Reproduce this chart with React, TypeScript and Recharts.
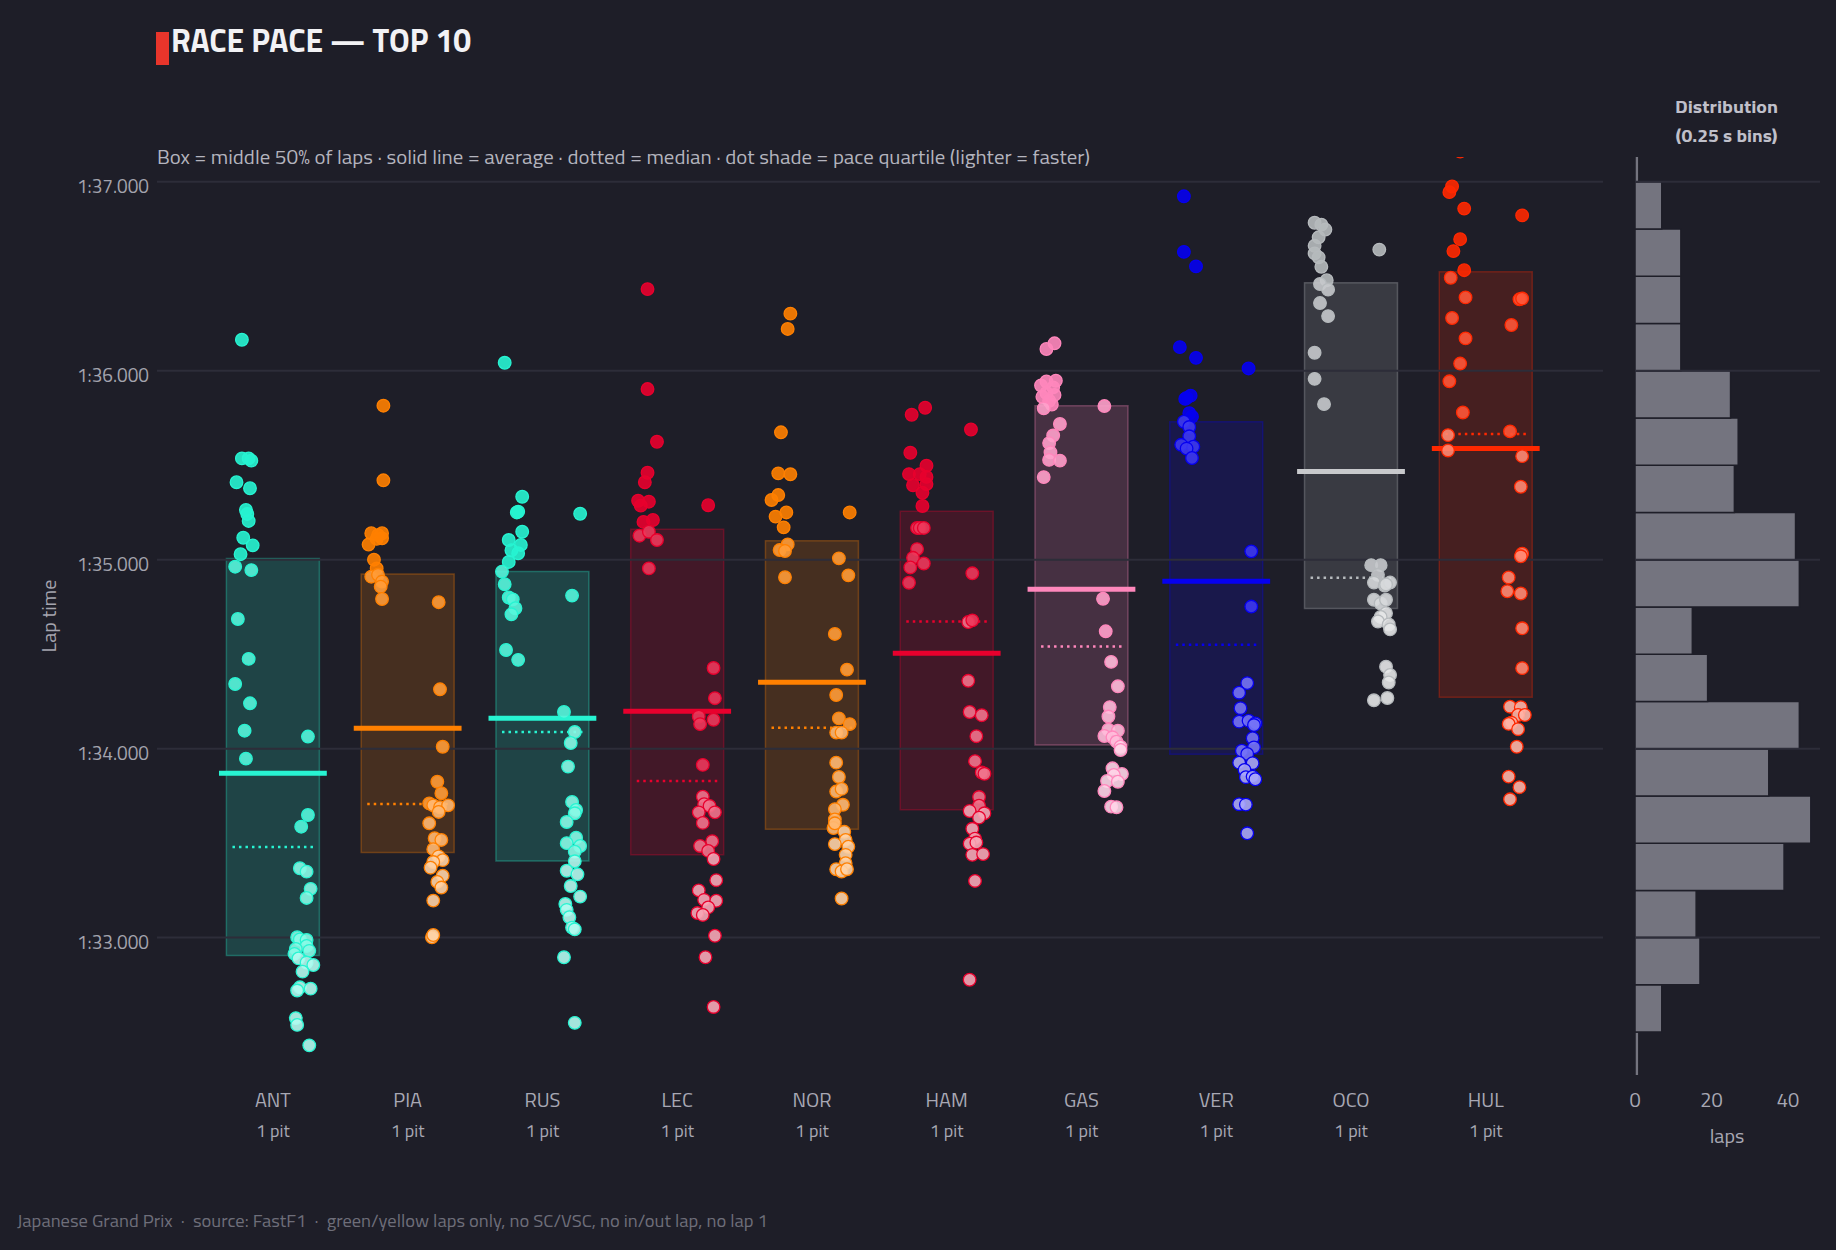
import React from "react";
import {
  ComposedChart,
  ReferenceArea,
  ReferenceLine,
  Scatter,
  XAxis,
  YAxis,
} from "recharts";

const BG = "#1E1E28";
const GRID = "#2D2D39";
const FONT = "'Titillium Web', Roboto, 'Open Sans', sans-serif";

// lap time axis, seconds
const Y_MIN = 92.273;
const Y_MAX = 97.131;
const X_MIN = -0.86;
const X_MAX = 9.87;
const lapTicks = [93, 94, 95, 96, 97];

const drivers = ["ANT", "PIA", "RUS", "LEC", "NOR", "HAM", "GAS", "VER", "OCO", "HUL"];
const pitStops = ["1 pit", "1 pit", "1 pit", "1 pit", "1 pit", "1 pit", "1 pit", "1 pit", "1 pit", "1 pit"];
const teamColors = ["#27F4D2", "#FF8000", "#27F4D2", "#E8002D", "#FF8000", "#E8002D", "#FF87BC", "#0600EF", "#B6BABD", "#FF2800"];

// upper / lower quartile, average and median per driver
const boxTop = [95.006, 94.924, 94.937, 95.161, 95.1, 95.256, 95.815, 95.73, 96.465, 96.524];
const boxBottom = [92.906, 93.45, 93.406, 93.438, 93.574, 93.677, 94.019, 93.97, 94.742, 94.272];
const lapMean = [93.87, 94.108, 94.161, 94.198, 94.351, 94.505, 94.843, 94.886, 95.467, 95.588];
const lapMedian = [93.48, 93.707, 94.088, 93.829, 94.111, 94.673, 94.54, 94.55, 94.904, 95.665];

// [lap time, horizontal jitter] — stint 1 left of centre, stint 2 right
const lapsANT: [number, number][] = [
  [96.164, -0.23], [95.536, -0.23], [95.536, -0.18], [95.524, -0.16], [95.41, -0.27], [95.378, -0.17],
  [95.263, -0.2], [95.242, -0.19], [95.205, -0.18], [95.116, -0.22], [95.076, -0.15], [95.029, -0.24],
  [94.963, -0.28], [94.945, -0.16], [94.686, -0.26], [94.475, -0.18], [94.342, -0.28], [94.24, -0.17],
  [94.095, -0.21], [93.947, -0.2],
  [94.064, 0.26], [93.649, 0.26], [93.587, 0.21], [93.367, 0.2], [93.349, 0.25], [93.258, 0.28],
  [93.21, 0.25], [93.002, 0.18], [92.99, 0.2], [92.988, 0.25], [92.956, 0.25], [92.94, 0.17],
  [92.93, 0.27], [92.914, 0.16], [92.89, 0.19], [92.868, 0.25], [92.855, 0.3], [92.82, 0.22],
  [92.737, 0.2], [92.72, 0.18], [92.73, 0.28], [92.574, 0.17], [92.538, 0.18], [92.43, 0.27],
];
const lapsPIA: [number, number][] = [
  [95.815, -0.18], [95.42, -0.18], [95.14, -0.19], [95.14, -0.27], [95.13, -0.22], [95.113, -0.19],
  [95.11, -0.23], [95.08, -0.29], [95.0, -0.25], [94.954, -0.23], [94.91, -0.27], [94.92, -0.22],
  [94.884, -0.19], [94.857, -0.2], [94.792, -0.19],
  [94.775, 0.23], [94.314, 0.24], [94.01, 0.26], [93.825, 0.22], [93.764, 0.25], [93.71, 0.16],
  [93.7, 0.19], [93.69, 0.24], [93.7, 0.3], [93.665, 0.23], [93.605, 0.16], [93.526, 0.2],
  [93.517, 0.25], [93.468, 0.19], [93.43, 0.23], [93.41, 0.26], [93.4, 0.19], [93.37, 0.17],
  [93.328, 0.26], [93.295, 0.22], [93.265, 0.25], [93.196, 0.19], [93.002, 0.18], [93.014, 0.19],
];
const lapsRUS: [number, number][] = [
  [96.042, -0.28], [95.333, -0.15], [95.25, -0.19], [95.254, -0.18], [95.148, -0.15], [95.104, -0.25],
  [95.078, -0.16], [95.05, -0.23], [95.034, -0.18], [94.988, -0.25], [94.937, -0.3], [94.87, -0.28],
  [94.8, -0.25], [94.79, -0.22], [94.743, -0.2], [94.711, -0.23], [94.522, -0.27], [94.47, -0.18],
  [95.243, 0.28], [94.81, 0.22], [94.194, 0.16], [94.088, 0.24], [94.03, 0.21], [93.905, 0.19],
  [93.718, 0.22], [93.676, 0.25], [93.658, 0.24], [93.612, 0.18], [93.529, 0.25], [93.5, 0.18],
  [93.485, 0.28], [93.455, 0.24], [93.404, 0.24], [93.354, 0.18], [93.335, 0.26], [93.273, 0.21],
  [93.217, 0.28], [93.178, 0.17], [93.147, 0.18], [93.108, 0.2], [93.053, 0.22], [93.044, 0.24],
  [92.896, 0.16], [92.549, 0.24],
];
const lapsLEC: [number, number][] = [
  [96.432, -0.22], [95.903, -0.22], [95.624, -0.15], [95.46, -0.22], [95.41, -0.24], [95.312, -0.29],
  [95.286, -0.27], [95.307, -0.21], [95.2, -0.25], [95.21, -0.18], [95.127, -0.28], [95.148, -0.21],
  [95.104, -0.15], [94.954, -0.21],
  [95.288, 0.23], [94.427, 0.27], [94.267, 0.28], [94.17, 0.16], [94.13, 0.17], [94.153, 0.27],
  [93.914, 0.19], [93.746, 0.19], [93.706, 0.2], [93.697, 0.24], [93.663, 0.16], [93.663, 0.28],
  [93.607, 0.19], [93.51, 0.26], [93.485, 0.17], [93.459, 0.23], [93.416, 0.27], [93.304, 0.29],
  [93.25, 0.16], [93.2, 0.2], [93.195, 0.29], [93.16, 0.23], [93.13, 0.15], [93.12, 0.19],
  [93.01, 0.28], [92.896, 0.21], [92.633, 0.27],
];
const lapsNOR: [number, number][] = [
  [96.302, -0.16], [96.221, -0.18], [95.674, -0.23], [95.457, -0.25], [95.452, -0.16], [95.342, -0.25],
  [95.316, -0.3], [95.25, -0.19], [95.228, -0.27], [95.171, -0.21], [95.081, -0.18], [95.051, -0.24],
  [95.046, -0.2], [94.907, -0.2],
  [95.25, 0.28], [95.007, 0.2], [94.917, 0.27], [94.607, 0.17], [94.418, 0.26], [94.284, 0.18],
  [94.16, 0.2], [94.13, 0.28], [94.085, 0.18], [94.085, 0.22], [93.926, 0.18], [93.85, 0.2],
  [93.773, 0.18], [93.787, 0.22], [93.703, 0.23], [93.68, 0.17], [93.626, 0.17], [93.58, 0.16],
  [93.605, 0.17], [93.56, 0.24], [93.517, 0.25], [93.495, 0.17], [93.481, 0.27], [93.438, 0.25],
  [93.394, 0.25], [93.362, 0.18], [93.35, 0.22], [93.362, 0.26], [93.207, 0.22],
];
const lapsHAM: [number, number][] = [
  [95.767, -0.26], [95.804, -0.16], [95.566, -0.27], [95.497, -0.15], [95.453, -0.28], [95.453, -0.2],
  [95.438, -0.15], [95.394, -0.25], [95.4, -0.15], [95.354, -0.18], [95.284, -0.18], [95.168, -0.22],
  [95.168, -0.2], [95.168, -0.17], [95.056, -0.22], [95.01, -0.25], [94.98, -0.17], [94.959, -0.27],
  [94.878, -0.28],
  [95.689, 0.18], [94.928, 0.19], [94.67, 0.16], [94.679, 0.19], [94.359, 0.16], [94.194, 0.17],
  [94.177, 0.26], [94.066, 0.22], [93.934, 0.21], [93.874, 0.26], [93.867, 0.28], [93.744, 0.24],
  [93.698, 0.24], [93.67, 0.17], [93.658, 0.28], [93.635, 0.24], [93.576, 0.19], [93.524, 0.21],
  [93.497, 0.17], [93.503, 0.22], [93.438, 0.19], [93.442, 0.27], [93.3, 0.21], [92.777, 0.17],
];
const lapsGAS: [number, number][] = [
  [96.145, -0.2], [96.115, -0.26], [95.943, -0.26], [95.947, -0.19], [95.922, -0.3], [95.912, -0.21],
  [95.882, -0.26], [95.872, -0.2], [95.862, -0.29], [95.841, -0.24], [95.821, -0.22], [95.801, -0.28],
  [95.718, -0.16], [95.657, -0.21], [95.617, -0.24], [95.568, -0.23], [95.528, -0.24], [95.524, -0.16],
  [95.437, -0.28],
  [95.813, 0.17], [94.793, 0.16], [94.621, 0.18], [94.459, 0.22], [94.33, 0.27], [94.22, 0.21],
  [94.17, 0.2], [94.1, 0.2], [94.095, 0.27], [94.067, 0.17], [94.06, 0.23], [94.037, 0.26],
  [94.01, 0.29], [93.993, 0.29], [93.896, 0.23], [93.866, 0.3], [93.861, 0.24], [93.829, 0.19],
  [93.825, 0.27], [93.776, 0.17], [93.693, 0.22], [93.69, 0.26],
];
const lapsVER: [number, number][] = [
  [96.923, -0.24], [96.629, -0.24], [96.552, -0.15], [96.125, -0.27], [96.068, -0.15], [95.851, -0.23],
  [95.868, -0.19], [95.856, -0.22], [95.775, -0.2], [95.757, -0.18], [95.73, -0.24], [95.702, -0.2],
  [95.653, -0.2], [95.608, -0.26], [95.598, -0.17], [95.588, -0.22], [95.538, -0.18],
  [96.012, 0.24], [95.044, 0.26], [94.752, 0.26], [94.347, 0.23], [94.296, 0.17], [94.214, 0.18],
  [94.143, 0.17], [94.148, 0.24], [94.134, 0.29], [94.125, 0.28], [94.055, 0.27], [94.007, 0.28],
  [93.989, 0.19], [93.972, 0.23], [93.926, 0.17], [93.923, 0.27], [93.887, 0.21], [93.849, 0.22],
  [93.852, 0.27], [93.838, 0.29], [93.706, 0.17], [93.704, 0.22], [93.552, 0.23],
];
const lapsOCO: [number, number][] = [
  [96.783, -0.27], [96.773, -0.22], [96.747, -0.19], [96.706, -0.24], [96.661, -0.27], [96.621, -0.27],
  [96.6, -0.24], [96.55, -0.22], [96.479, -0.18], [96.459, -0.23], [96.429, -0.17], [96.358, -0.23],
  [96.289, -0.17], [96.095, -0.27], [95.957, -0.27], [95.823, -0.2],
  [96.641, 0.21], [94.971, 0.15], [94.971, 0.22], [94.92, 0.2], [94.879, 0.17], [94.863, 0.25],
  [94.879, 0.29], [94.869, 0.26], [94.788, 0.17], [94.768, 0.22], [94.788, 0.26], [94.717, 0.26],
  [94.697, 0.22], [94.673, 0.2], [94.657, 0.28], [94.631, 0.29], [94.434, 0.26], [94.39, 0.29],
  [94.35, 0.28], [94.256, 0.17], [94.268, 0.27],
];
const lapsHUL: [number, number][] = [
  [97.16, -0.19], [96.975, -0.25], [96.945, -0.27], [96.858, -0.16], [96.696, -0.19], [96.633, -0.24],
  [96.532, -0.16], [96.492, -0.26], [96.388, -0.15], [96.279, -0.25], [96.171, -0.15], [96.038, -0.19],
  [95.944, -0.27], [95.779, -0.17], [95.659, -0.28], [95.578, -0.28],
  [96.822, 0.27], [96.378, 0.25], [96.382, 0.27], [96.242, 0.19], [95.679, 0.18], [95.548, 0.27],
  [95.386, 0.26], [95.032, 0.27], [95.018, 0.26], [94.906, 0.17], [94.833, 0.16], [94.821, 0.26],
  [94.637, 0.27], [94.426, 0.27], [94.222, 0.18], [94.219, 0.26], [94.178, 0.24], [94.178, 0.29],
  [94.138, 0.19], [94.131, 0.17], [94.103, 0.24], [94.01, 0.23], [93.852, 0.17], [93.796, 0.25],
  [93.732, 0.18],
];
const lapsByDriver = [lapsANT, lapsPIA, lapsRUS, lapsLEC, lapsNOR, lapsHAM, lapsGAS, lapsVER, lapsOCO, lapsHUL];

// all-driver histogram, 0.25 s bins
const binStart = [92.25, 92.5, 92.75, 93.0, 93.25, 93.5, 93.75, 94.0, 94.25, 94.5, 94.75, 95.0, 95.25, 95.5, 95.75, 96.0, 96.25, 96.5, 96.75, 97.0];
const binCount = [1, 7, 17, 16, 39, 46, 35, 43, 19, 15, 43, 42, 26, 27, 25, 12, 12, 12, 7, 1];
const histTicks = [0, 20, 40];

function fmtLap(t: number) {
  const m = Math.floor(t / 60);
  const s = t - m * 60;
  return `${m}:${s.toFixed(3).padStart(6, "0")}`;
}

function tint(hex: string, w: number) {
  const n = parseInt(hex.slice(1), 16);
  const ch = [(n >> 16) & 255, (n >> 8) & 255, n & 255].map((c) => Math.round(c + (255 - c) * w));
  return `rgb(${ch[0]},${ch[1]},${ch[2]})`;
}

// lighter = faster quartile
function lapFill(i: number, t: number) {
  const c = teamColors[i];
  if (t > boxTop[i]) return c;
  if (t > lapMedian[i]) return tint(c, 0.22);
  if (t > boxBottom[i]) return tint(c, 0.45);
  return tint(c, 0.65);
}

const LapDot = (props: any) => {
  const { cx, cy, payload } = props;
  if (cx == null || cy == null) return null;
  return (
    <circle cx={cx} cy={cy} r={6.3} fill={payload.fill} fillOpacity={0.9} stroke={payload.stroke} strokeWidth={1.3} />
  );
};

const NoDot = () => <g />;

const DriverTick = (props: any) => {
  const { x, y, payload } = props;
  const i = payload.value as number;
  return (
    <g>
      <text x={x} y={y + 24} textAnchor="middle" fontSize={20} fill="#A8A8B4" fontFamily={FONT}>
        {drivers[i]}
      </text>
      <text x={x} y={y + 54} textAnchor="middle" fontSize={18} fill="#A8A8B4" fontFamily={FONT}>
        {pitStops[i]}
      </text>
    </g>
  );
};

const LapTick = (props: any) => {
  const { x, y, payload } = props;
  return (
    <text x={x} y={y + 11} textAnchor="end" fontSize={19} fill="#A4A4AE" fontFamily={FONT}>
      {fmtLap(payload.value)}
    </text>
  );
};

const CountTick = (props: any) => {
  const { x, y, payload } = props;
  return (
    <text x={x} y={y + 24} textAnchor="middle" fontSize={20} fill="#A8A8B4" fontFamily={FONT}>
      {payload.value}
    </text>
  );
};

export default function App() {
  const series = lapsByDriver.map((laps, i) =>
    laps.map(([t, dx]) => {
      const fill = lapFill(i, t);
      return { x: i + dx, y: t, fill, stroke: teamColors[i] };
    })
  );
  const bins = binStart.map((b, k) => ({ x: binCount[k], y: b + 0.125 }));

  return (
    <div style={{ position: "relative", width: 1836, height: 1250, background: BG, overflow: "hidden" }}>
      <style>{`html, body { margin: 0; padding: 0; background: ${BG}; }`}</style>
      <div style={{ position: "absolute", left: 0, top: 0 }}>
        <ComposedChart width={1620} height={1250} margin={{ top: 157, right: 17, bottom: 115, left: 57 }}>
          <XAxis
            type="number"
            dataKey="x"
            domain={[X_MIN, X_MAX]}
            ticks={drivers.map((_, i) => i)}
            interval={0}
            height={60}
            axisLine={false}
            tickLine={false}
            tick={DriverTick}
            allowDataOverflow
          />
          <YAxis
            type="number"
            dataKey="y"
            domain={[Y_MIN, Y_MAX]}
            ticks={lapTicks}
            interval={0}
            width={100}
            axisLine={false}
            tickLine={false}
            tick={LapTick}
            allowDataOverflow
          />
          {lapTicks.map((t) => (
            <ReferenceLine key={`grid-${t}`} y={t} stroke={GRID} strokeWidth={2} />
          ))}
          {drivers.map((d, i) => (
            <ReferenceArea
              key={`box-${d}`}
              x1={i - 0.345}
              x2={i + 0.345}
              y1={boxBottom[i]}
              y2={boxTop[i]}
              fill={teamColors[i]}
              fillOpacity={0.18}
              stroke={teamColors[i]}
              strokeOpacity={0.3}
              strokeWidth={1.5}
            />
          ))}
          {drivers.map((d, i) => (
            <Scatter key={`laps-${d}`} data={series[i]} shape={LapDot} isAnimationActive={false} />
          ))}
          {drivers.map((d, i) => (
            <ReferenceLine
              key={`med-${d}`}
              segment={[
                { x: i - 0.3, y: lapMedian[i] },
                { x: i + 0.3, y: lapMedian[i] },
              ]}
              stroke={teamColors[i]}
              strokeWidth={2.5}
              strokeDasharray="2.5 4"
            />
          ))}
          {drivers.map((d, i) => (
            <ReferenceLine
              key={`avg-${d}`}
              segment={[
                { x: i - 0.4, y: lapMean[i] },
                { x: i + 0.4, y: lapMean[i] },
              ]}
              stroke={i === 8 ? "#C8C9CC" : teamColors[i]}
              strokeWidth={5}
            />
          ))}
        </ComposedChart>
      </div>

      <div style={{ position: "absolute", left: 1535, top: 0 }}>
        <ComposedChart width={300} height={1250} margin={{ top: 157, right: 15, bottom: 115, left: 100 }}>
          <XAxis
            type="number"
            dataKey="x"
            domain={[0, 48.4]}
            ticks={histTicks}
            interval={0}
            height={60}
            axisLine={false}
            tickLine={false}
            tick={CountTick}
            allowDataOverflow
          />
          <YAxis type="number" dataKey="y" domain={[Y_MIN, Y_MAX]} hide allowDataOverflow />
          {lapTicks.map((t) => (
            <ReferenceLine key={`g-${t}`} y={t} stroke={GRID} strokeWidth={2} />
          ))}
          {binStart.map((b, k) => (
            <ReferenceArea
              key={`bin-${b}`}
              x1={0}
              x2={binCount[k]}
              y1={b}
              y2={b + 0.25}
              fill="#74747F"
              fillOpacity={1}
              stroke={BG}
              strokeWidth={1.5}
              ifOverflow="hidden"
            />
          ))}
          <Scatter data={bins} shape={NoDot} isAnimationActive={false} />
        </ComposedChart>
      </div>

      <svg width={1836} height={1250} style={{ position: "absolute", left: 0, top: 0, pointerEvents: "none" }} fontFamily={FONT}>
        <rect x={156} y={32} width={13} height={33} fill="#E8352B" />
        <text x={171} y={52} fontSize={32} fontWeight={700} fill="#F2F2F5" textLength={300} lengthAdjust="spacingAndGlyphs">
          RACE PACE — TOP 10
        </text>
        <text x={157} y={164} fontSize={19} fill="#B4B4BE" textLength={933} lengthAdjust="spacingAndGlyphs">
          Box = middle 50% of laps · solid line = average · dotted = median · dot shade = pace quartile (lighter = faster)
        </text>
        <text x={1726.5} y={113} fontSize={17} fontWeight={700} fill="#C0C0CA" textAnchor="middle" textLength={103} lengthAdjust="spacingAndGlyphs">
          Distribution
        </text>
        <text x={1726.5} y={142} fontSize={17} fontWeight={700} fill="#C0C0CA" textAnchor="middle" textLength={102} lengthAdjust="spacingAndGlyphs">
          (0.25 s bins)
        </text>
        <text transform="translate(56,616) rotate(-90)" fontSize={20} fill="#A4A4AE" textAnchor="middle">
          Lap time
        </text>
        <text x={1727} y={1143} fontSize={20} fill="#A8A8B4" textAnchor="middle">
          laps
        </text>
        <text x={17} y={1227} fontSize={17} fill="#6E6E7A" textLength={751} lengthAdjust="spacingAndGlyphs" style={{ whiteSpace: "pre" }}>
          {"Japanese Grand Prix  ·  source: FastF1  ·  green/yellow laps only, no SC/VSC, no in/out lap, no lap 1"}
        </text>
      </svg>
    </div>
  );
}
